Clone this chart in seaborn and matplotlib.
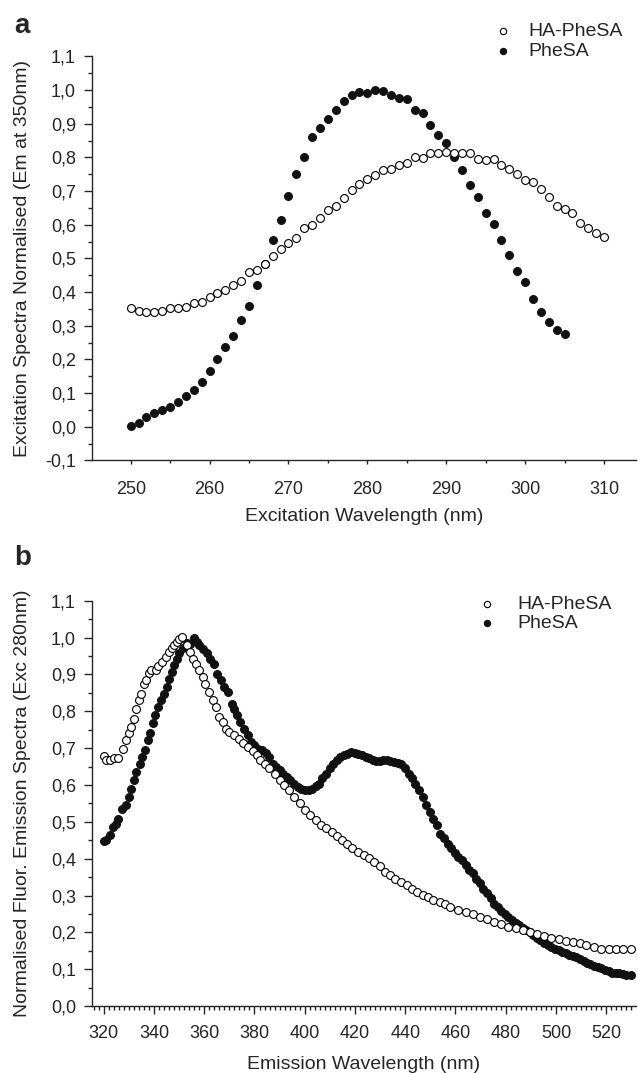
import seaborn as sns
import matplotlib.pyplot as plt
from matplotlib.ticker import MultipleLocator, FuncFormatter

# (a) excitation spectra, emission read at 350 nm
exc_wl_ha = list(range(250, 311))
exc_ha = [0.353, 0.345, 0.341, 0.342, 0.345, 0.353, 0.353, 0.356, 0.367, 0.369,
          0.384, 0.398, 0.406, 0.421, 0.432, 0.459, 0.466, 0.483, 0.506, 0.528,
          0.547, 0.562, 0.590, 0.599, 0.619, 0.644, 0.655, 0.680, 0.703, 0.720,
          0.735, 0.748, 0.763, 0.764, 0.778, 0.784, 0.802, 0.798, 0.814, 0.812,
          0.816, 0.812, 0.813, 0.812, 0.795, 0.793, 0.796, 0.776, 0.766, 0.752,
          0.733, 0.728, 0.706, 0.683, 0.657, 0.648, 0.636, 0.606, 0.589, 0.574,
          0.564]
exc_wl_phe = list(range(250, 306))
exc_phe = [0.003, 0.012, 0.028, 0.042, 0.050, 0.059, 0.073, 0.092, 0.110, 0.134,
           0.165, 0.200, 0.238, 0.269, 0.317, 0.359, 0.420, 0.483, 0.554, 0.615,
           0.684, 0.750, 0.802, 0.860, 0.887, 0.914, 0.942, 0.966, 0.985, 0.993,
           0.990, 1.001, 0.996, 0.985, 0.977, 0.972, 0.940, 0.931, 0.895, 0.865,
           0.843, 0.802, 0.762, 0.718, 0.681, 0.634, 0.601, 0.554, 0.509, 0.463,
           0.430, 0.380, 0.341, 0.312, 0.288, 0.276]

# (b) emission spectra, excitation at 280 nm
em_wl_ha = [320, 321, 322.5, 324, 325.7, 327.5, 329, 330, 331, 332, 333, 334, 335,
            336, 337, 338, 339, 340.7, 341.7, 343, 344.6, 346, 347, 348, 349, 350,
            351, 353, 354.5, 355.7, 356.7, 358, 359.5, 360.5, 362, 363.4, 364.5,
            366, 367.3, 368.8, 370, 372, 373.7, 375.6, 377.3, 379.4, 380.8, 382.3,
            384, 385.8, 388, 390, 391.8, 393.6, 395.8, 398, 400, 402, 404.3, 406.4,
            408.6, 410.7, 412.8, 415, 417, 419, 421, 423.5, 425.6, 427.7, 430, 432,
            434, 436, 438.4, 440.5, 442.7, 444.8, 447, 449, 451, 454, 456, 458,
            461, 464, 466.8, 469.7, 472.5, 475.4, 478.2, 481, 484, 486.7, 489.6,
            492.4, 495.3, 498, 501, 503.8, 506.6, 509.5, 512, 515, 518, 521, 523.7,
            526.5, 530]
em_ha = [0.678, 0.669, 0.667, 0.673, 0.674, 0.699, 0.722, 0.740, 0.758, 0.780,
         0.807, 0.832, 0.848, 0.875, 0.884, 0.904, 0.911, 0.911, 0.922, 0.934,
         0.948, 0.961, 0.973, 0.979, 0.988, 0.995, 1.002, 0.979, 0.961, 0.943,
         0.929, 0.911, 0.893, 0.875, 0.853, 0.830, 0.812, 0.785, 0.771, 0.753,
         0.744, 0.735, 0.726, 0.714, 0.703, 0.693, 0.681, 0.669, 0.658, 0.645,
         0.629, 0.613, 0.599, 0.586, 0.568, 0.550, 0.532, 0.518, 0.505, 0.491,
         0.482, 0.473, 0.461, 0.450, 0.439, 0.428, 0.419, 0.410, 0.401, 0.392,
         0.380, 0.364, 0.355, 0.346, 0.337, 0.328, 0.319, 0.310, 0.301, 0.295,
         0.289, 0.283, 0.277, 0.269, 0.262, 0.256, 0.250, 0.242, 0.235, 0.229,
         0.222, 0.215, 0.211, 0.206, 0.200, 0.195, 0.190, 0.185, 0.181, 0.177,
         0.174, 0.170, 0.165, 0.161, 0.156, 0.155, 0.155, 0.156, 0.156]
em_wl_phe = [320, 321, 322.5, 323.5, 324.7, 325.8, 327.2, 328.7, 330, 331, 332, 333,
             334.4, 335.4, 336.3, 337.5, 338.6, 339.6, 340.6, 341.7, 342.9, 343.9,
             345, 346, 347, 348, 349, 350, 351.7, 353, 354.5, 356, 357, 358, 359.5,
             361, 362.4, 363.8, 365, 366.6, 368, 369.5, 371, 372, 373, 374.4, 375.9,
             377.3, 378.7, 380, 381.5, 383, 384.4, 385.8, 387.2, 388.7, 390, 391.5,
             393, 394.3, 395.8, 397.2, 398.6, 400, 401.5, 402.9, 404.3, 405.7, 407,
             408.6, 410, 411.4, 412.8, 414.2, 415.7, 417, 418.5, 420, 421.3, 422.8,
             424.2, 425.6, 427, 428.5, 430, 431.3, 432.7, 434, 435.6, 437, 438.4,
             439.8, 441.3, 442.7, 444, 445.5, 447, 448.4, 449.8, 451.2, 452.6, 454,
             455.5, 457, 458.3, 459.7, 461, 462.6, 464, 465.4, 466.8, 468.3, 469.7,
             471, 472.5, 474, 475.4, 476.8, 478.2, 479.6, 481, 482.5, 484, 485.3,
             486.7, 488, 489.6, 491, 492.4, 493.8, 495.3, 496.7, 498, 499.5, 501,
             502.4, 503.8, 505.2, 506.6, 508, 509.5, 511, 512.3, 513.7, 515, 516.6,
             518, 519.4, 521, 522.3, 523.7, 525, 526.5, 528, 530]
em_phe = [0.448, 0.452, 0.464, 0.486, 0.495, 0.509, 0.536, 0.545, 0.568, 0.590,
          0.613, 0.636, 0.658, 0.676, 0.694, 0.722, 0.740, 0.767, 0.789, 0.812,
          0.830, 0.848, 0.866, 0.889, 0.907, 0.925, 0.943, 0.957, 0.973, 0.986,
          0.984, 1.000, 0.988, 0.979, 0.970, 0.957, 0.943, 0.929, 0.902, 0.884,
          0.866, 0.853, 0.821, 0.807, 0.789, 0.771, 0.753, 0.735, 0.717, 0.708,
          0.699, 0.694, 0.687, 0.676, 0.656, 0.649, 0.640, 0.631, 0.622, 0.613,
          0.604, 0.595, 0.588, 0.586, 0.586, 0.590, 0.597, 0.604, 0.618, 0.631,
          0.645, 0.658, 0.667, 0.676, 0.681, 0.685, 0.689, 0.687, 0.684, 0.681,
          0.676, 0.672, 0.667, 0.665, 0.665, 0.667, 0.669, 0.665, 0.663, 0.660,
          0.656, 0.645, 0.631, 0.618, 0.604, 0.586, 0.568, 0.545, 0.527, 0.509,
          0.491, 0.468, 0.455, 0.441, 0.428, 0.416, 0.405, 0.396, 0.382, 0.369,
          0.360, 0.346, 0.333, 0.319, 0.306, 0.292, 0.278, 0.268, 0.259, 0.250,
          0.241, 0.233, 0.226, 0.220, 0.213, 0.206, 0.200, 0.193, 0.186, 0.179,
          0.172, 0.165, 0.161, 0.156, 0.152, 0.147, 0.143, 0.138, 0.136, 0.132,
          0.127, 0.123, 0.118, 0.114, 0.108, 0.105, 0.102, 0.098, 0.096, 0.090,
          0.089, 0.089, 0.087, 0.084, 0.084]

sns.set_style('ticks')
plt.rcParams['font.family'] = ['Liberation Sans', 'DejaVu Sans']

fig = plt.figure(figsize=(6.38, 10.73), dpi=100)
ax_a = fig.add_axes([0.1437, 0.5709, 0.853, 0.3766])
ax_b = fig.add_axes([0.1437, 0.0624, 0.853, 0.3777])

comma = FuncFormatter(lambda v, _: f'{v:.1f}'.replace('.', ','))


def draw(ax, x_ha, y_ha, x_phe, y_phe, size):
    sns.scatterplot(x=x_ha, y=y_ha, ax=ax, marker='o', s=size, color='white',
                    edgecolor='black', linewidth=0.8, label='HA-PheSA', zorder=3)
    sns.scatterplot(x=x_phe, y=y_phe, ax=ax, marker='o', s=size, color='#111111',
                    edgecolor='#111111', linewidth=0.8, label='PheSA', zorder=2)
    sns.despine(ax=ax)
    ax.yaxis.set_major_formatter(comma)
    ax.yaxis.set_major_locator(MultipleLocator(0.1))
    ax.yaxis.set_minor_locator(MultipleLocator(0.05))
    ax.tick_params(axis='y', which='major', length=5.8, width=1, pad=5.5, labelsize=13)
    ax.tick_params(axis='y', which='minor', length=3, width=1)
    ax.tick_params(axis='x', labelsize=13)
    for s in ax.spines.values():
        s.set_linewidth(1)


def add_legend(ax, x, y, spacing):
    ax.legend(loc='upper left', bbox_to_anchor=(x, y), bbox_transform=fig.transFigure,
              frameon=False, fontsize=14, handlelength=1.0, handletextpad=spacing,
              borderaxespad=0, borderpad=0, labelspacing=0.1, markerscale=0.8)


draw(ax_a, exc_wl_ha, exc_ha, exc_wl_phe, exc_phe, 32)
ax_a.set_xlim(245.05, 314.05)
ax_a.set_ylim(-0.1, 1.1)
ax_a.xaxis.set_major_locator(MultipleLocator(10))
ax_a.xaxis.set_minor_locator(MultipleLocator(5))
ax_a.tick_params(axis='x', which='major', length=3.2, width=1, pad=11.5)
ax_a.tick_params(axis='x', which='minor', length=2.5, width=1)
ax_a.set_xlabel('Excitation Wavelength (nm)', fontsize=14, labelpad=7)
ax_a.set_ylabel('Excitation Spectra Normalised (Em at 350nm)', fontsize=14)
ax_a.yaxis.set_label_coords(0.049, 0.5709 + 0.3766 / 2, transform=fig.transFigure)
add_legend(ax_a, 0.7727, 0.979, 0.84)

draw(ax_b, em_wl_ha, em_ha, em_wl_phe, em_phe, 32)
ax_b.set_xlim(315.2, 531.8)
ax_b.set_ylim(0.0, 1.1)
ax_b.xaxis.set_major_locator(MultipleLocator(20))
ax_b.xaxis.set_minor_locator(MultipleLocator(2))
ax_b.tick_params(axis='x', which='major', length=5.5, width=1, pad=8)
ax_b.tick_params(axis='x', which='minor', length=3, width=1)
ax_b.set_xlabel('Emission Wavelength (nm)', fontsize=14, labelpad=10)
ax_b.set_ylabel('Normalised Fluor. Emission Spectra (Exc 280nm)', fontsize=14)
ax_b.yaxis.set_label_coords(0.049, 0.0624 + 0.3777 / 2, transform=fig.transFigure)
add_legend(ax_b, 0.748, 0.4454, 1.05)

fig.text(0.022, 0.969, 'a', fontsize=20, fontweight='bold', va='baseline')
fig.text(0.022, 0.4734, 'b', fontsize=20, fontweight='bold', va='baseline')

fig.savefig('out.png', dpi=100)
